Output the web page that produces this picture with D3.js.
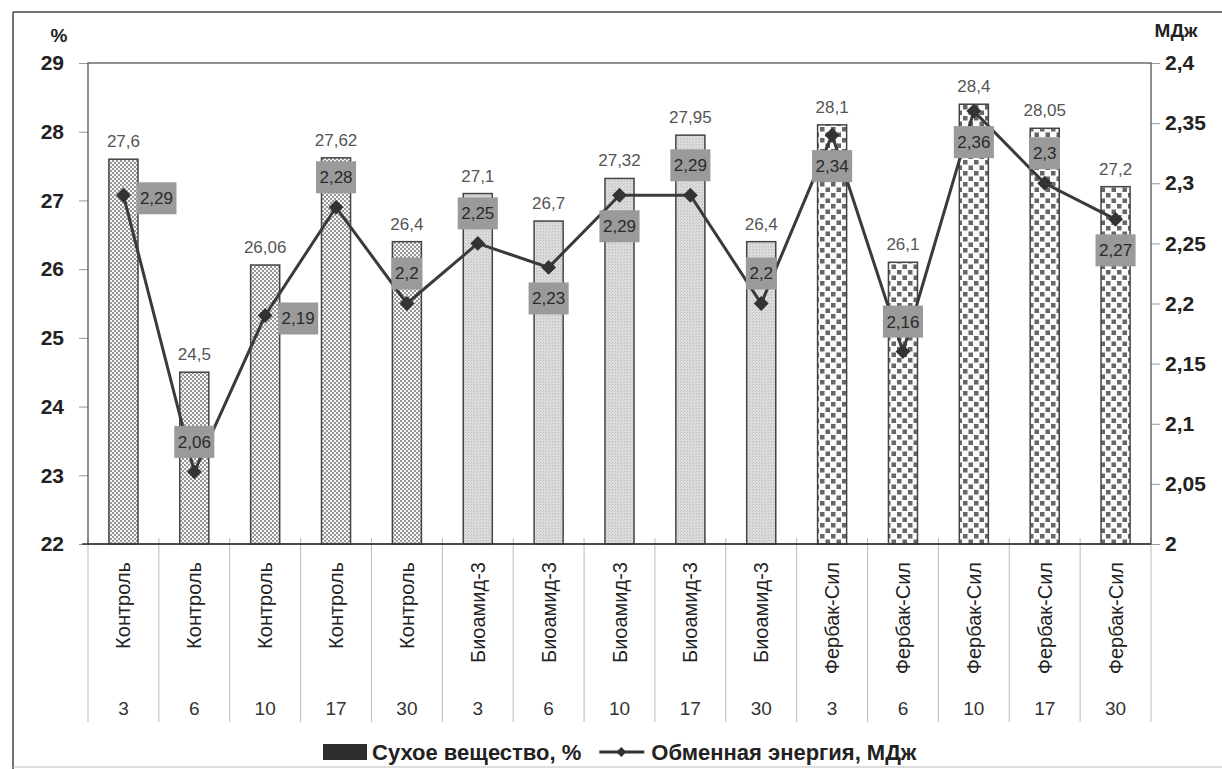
<!DOCTYPE html>
<html>
<head>
<meta charset="utf-8">
<script src="https://cdn.jsdelivr.net/npm/d3@7"></script>
<style>
  body { margin: 0; background: #fff; }
  svg { font-family: "Liberation Sans", Arial, sans-serif; }
</style>
</head>
<body>
<svg id="viz" width="1222" height="769"></svg>
<script>
// preparation group and storage day for each bar
const groups = ['Контроль', 'Контроль', 'Контроль', 'Контроль', 'Контроль',
    'Биоамид-3', 'Биоамид-3', 'Биоамид-3', 'Биоамид-3', 'Биоамид-3',
    'Фербак-Сил', 'Фербак-Сил', 'Фербак-Сил', 'Фербак-Сил', 'Фербак-Сил']
const days = ['3', '6', '10', '17', '30', '3', '6', '10', '17', '30', '3', '6', '10', '17', '30']
// Сухое вещество, %
const dryMatter = [27.6, 24.5, 26.06, 27.62, 26.4, 27.1, 26.7, 27.32, 27.95, 26.4, 28.1, 26.1, 28.4, 28.05, 27.2]
// Обменная энергия, МДж
const energy = [2.29, 2.06, 2.19, 2.28, 2.2, 2.25, 2.23, 2.29, 2.29, 2.2, 2.34, 2.16, 2.36, 2.3, 2.27]
// where each energy label box sits relative to its point
const energyLabelSide = ['right', 'above', 'right', 'above', 'above', 'above', 'below', 'below',
    'above', 'above', 'below', 'above', 'below', 'above', 'below']
const leftDomain = [22, 29]
const rightDomain = [2, 2.4]
const seriesNames = ['Сухое вещество, %', 'Обменная энергия, МДж']

let config = {
    plot: { left: 88, right: 1151, top: 63, bottom: 544 },
    barPadding: 0.59,
    catLabelTop: 562,
    dayLabelY: 708,
    sepBottom: 722,
    legendY: 752
}

const comma = d => d3.format('~g')(d).replace('.', ',')

let svg = d3.select('#viz')
let defs = svg.append('defs')

// bar fills
let pCtrl = defs.append('pattern').attr('id', 'pat-ctrl')
    .attr('patternUnits', 'userSpaceOnUse').attr('width', 4).attr('height', 4)
pCtrl.append('rect').attr('width', 4).attr('height', 4).attr('fill', '#f6f6f6')
pCtrl.append('circle').attr('cx', 1).attr('cy', 1).attr('r', 0.9).attr('fill', '#6a6a6a')
pCtrl.append('circle').attr('cx', 3).attr('cy', 3).attr('r', 0.9).attr('fill', '#6a6a6a')

let pBio = defs.append('pattern').attr('id', 'pat-bio')
    .attr('patternUnits', 'userSpaceOnUse').attr('width', 3).attr('height', 3)
pBio.append('rect').attr('width', 3).attr('height', 3).attr('fill', '#dcdcdc')
pBio.append('rect').attr('x', 0).attr('y', 0).attr('width', 1).attr('height', 1).attr('fill', '#bbbbbb')
pBio.append('rect').attr('x', 2).attr('y', 1).attr('width', 1).attr('height', 1).attr('fill', '#c6c6c6')

let pFerb = defs.append('pattern').attr('id', 'pat-ferb')
    .attr('patternUnits', 'userSpaceOnUse').attr('width', 11).attr('height', 11)
pFerb.append('rect').attr('width', 11).attr('height', 11).attr('fill', '#fbfbfb')
pFerb.append('rect').attr('x', 0.5).attr('y', 0.5).attr('width', 4.5).attr('height', 4.5).attr('fill', '#666')
pFerb.append('rect').attr('x', 6).attr('y', 6).attr('width', 4.5).attr('height', 4.5).attr('fill', '#666')

const fillFor = g => g === 'Контроль' ? 'url(#pat-ctrl)' : (g === 'Биоамид-3' ? 'url(#pat-bio)' : 'url(#pat-ferb)')

// outer frame (open on the right)
svg.append('line').attr('x1', 13).attr('y1', 12).attr('x2', 1222).attr('y2', 12).attr('stroke', '#444').attr('stroke-width', 1.5)
svg.append('line').attr('x1', 13).attr('y1', 12).attr('x2', 13).attr('y2', 769).attr('stroke', '#444').attr('stroke-width', 1.5)
svg.append('line').attr('x1', 13).attr('y1', 767).attr('x2', 1222).attr('y2', 767).attr('stroke', '#bbb').attr('stroke-width', 1)

let p = config.plot
let x = d3.scaleBand()
    .domain(d3.range(dryMatter.length))
    .range([p.left, p.right])
    .paddingInner(config.barPadding)
    .paddingOuter(config.barPadding / 2)
let yLeft = d3.scaleLinear().domain(leftDomain).range([p.bottom, p.top])
let yRight = d3.scaleLinear().domain(rightDomain).range([p.bottom, p.top])
const cx = i => x(i) + x.bandwidth() / 2

// axes
let gLeft = svg.append('g').attr('transform', `translate(${p.left},0)`)
    .call(d3.axisLeft(yLeft).ticks(7).tickSize(9).tickPadding(15).tickFormat(comma))
gLeft.select('.domain').remove()
gLeft.selectAll('line').attr('stroke', '#999')
gLeft.selectAll('text').attr('font-size', 21).attr('font-weight', 'bold').attr('fill', '#222')

let gRight = svg.append('g').attr('transform', `translate(${p.right},0)`)
    .call(d3.axisRight(yRight).ticks(8).tickSize(9).tickPadding(5).tickFormat(comma))
gRight.select('.domain').remove()
gRight.selectAll('line').attr('stroke', '#999')
gRight.selectAll('text').attr('font-size', 21).attr('font-weight', 'bold').attr('fill', '#222')

svg.append('text').attr('x', 59).attr('y', 35).attr('dy', '0.35em').attr('text-anchor', 'middle')
    .attr('font-size', 19).attr('font-weight', 'bold').attr('fill', '#222').text('%')
svg.append('text').attr('x', 1176).attr('y', 30).attr('dy', '0.35em').attr('text-anchor', 'middle')
    .attr('font-size', 19).attr('font-weight', 'bold').attr('fill', '#222').text('МДж')

// category separators below the axis
let step = x.step()
d3.range(dryMatter.length + 1).forEach(i => {
    let bx = p.left + i * step
    svg.append('line').attr('x1', bx).attr('x2', bx)
        .attr('y1', p.bottom - 6).attr('y2', config.sepBottom)
        .attr('stroke', '#bbb').attr('stroke-width', 1)
})

// bars
svg.append('g').selectAll('rect').data(dryMatter).join('rect')
    .attr('x', (d, i) => x(i))
    .attr('y', d => yLeft(d))
    .attr('width', x.bandwidth())
    .attr('height', d => yLeft(leftDomain[0]) - yLeft(d))
    .attr('fill', (d, i) => fillFor(groups[i]))
    .attr('stroke', '#444').attr('stroke-width', 1.5)

// plot frame
svg.append('rect').attr('x', p.left).attr('y', p.top)
    .attr('width', p.right - p.left).attr('height', p.bottom - p.top)
    .attr('fill', 'none').attr('stroke', '#555').attr('stroke-width', 1.3)
svg.append('line').attr('x1', p.left - 6).attr('x2', p.right).attr('y1', p.bottom).attr('y2', p.bottom)
    .attr('stroke', '#333').attr('stroke-width', 1.6)

// bar value labels
svg.append('g').selectAll('text').data(dryMatter).join('text')
    .attr('x', (d, i) => cx(i))
    .attr('y', d => yLeft(d) - 12)
    .attr('text-anchor', 'middle').attr('font-size', 17).attr('fill', '#555')
    .text(d => comma(d))

// energy line + markers
let line = d3.line().x((d, i) => cx(i)).y(d => yRight(d))
svg.append('path').datum(energy).attr('d', line)
    .attr('fill', 'none').attr('stroke', '#3a3a3a').attr('stroke-width', 3)
svg.append('g').selectAll('path').data(energy).join('path')
    .attr('d', d3.symbol(d3.symbolSquare, 110))
    .attr('transform', (d, i) => `translate(${cx(i)},${yRight(d)}) rotate(45)`)
    .attr('fill', '#333')

// energy label boxes
energy.forEach((v, i) => {
    let px = cx(i), py = yRight(v)
    let side = energyLabelSide[i]
    let lx = px, ly = py
    if (side === 'right') { lx = px + 33; ly = py + 3 }
    if (side === 'above') { ly = py - 30 }
    if (side === 'below') { ly = py + 31 }
    let g = svg.append('g').attr('transform', `translate(${lx},${ly})`)
    let t = g.append('text').attr('text-anchor', 'middle').attr('dy', '0.35em')
        .attr('font-size', 17).attr('fill', '#2a2a2a').text(comma(v))
    let w = t.node().getComputedTextLength() + 7
    g.insert('rect', 'text').attr('x', -w / 2).attr('y', -16).attr('width', w).attr('height', 32)
        .attr('fill', '#9a9a9a')
})

// category labels
svg.append('g').selectAll('text').data(groups).join('text')
    .attr('transform', (d, i) => `translate(${cx(i)},${config.catLabelTop}) rotate(-90)`)
    .attr('dy', '0.35em').attr('text-anchor', 'end')
    .attr('font-size', 20).attr('fill', '#222')
    .text(d => d)
svg.append('g').selectAll('text').data(days).join('text')
    .attr('x', (d, i) => cx(i)).attr('y', config.dayLabelY).attr('dy', '0.35em')
    .attr('text-anchor', 'middle').attr('font-size', 19).attr('fill', '#333')
    .text(d => d)

// legend
let lg = svg.append('g').attr('transform', `translate(0,${config.legendY})`)
let lx0 = 323
lg.append('rect').attr('x', lx0).attr('y', -8).attr('width', 44).attr('height', 16).attr('fill', '#2e2e2e')
let t1 = lg.append('text').attr('x', lx0 + 49).attr('dy', '0.35em').attr('font-size', 22)
    .attr('font-weight', 'bold').attr('fill', '#222').text(seriesNames[0])
let lx1 = lx0 + 49 + t1.node().getComputedTextLength() + 18
lg.append('line').attr('x1', lx1).attr('x2', lx1 + 45).attr('y1', 0).attr('y2', 0)
    .attr('stroke', '#333').attr('stroke-width', 3)
lg.append('path').attr('d', d3.symbol(d3.symbolSquare, 50))
    .attr('transform', `translate(${lx1 + 22},0) rotate(45)`).attr('fill', '#333')
lg.append('text').attr('x', lx1 + 52).attr('dy', '0.35em').attr('font-size', 22)
    .attr('font-weight', 'bold').attr('fill', '#222').text(seriesNames[1])
</script>
</body>
</html>
